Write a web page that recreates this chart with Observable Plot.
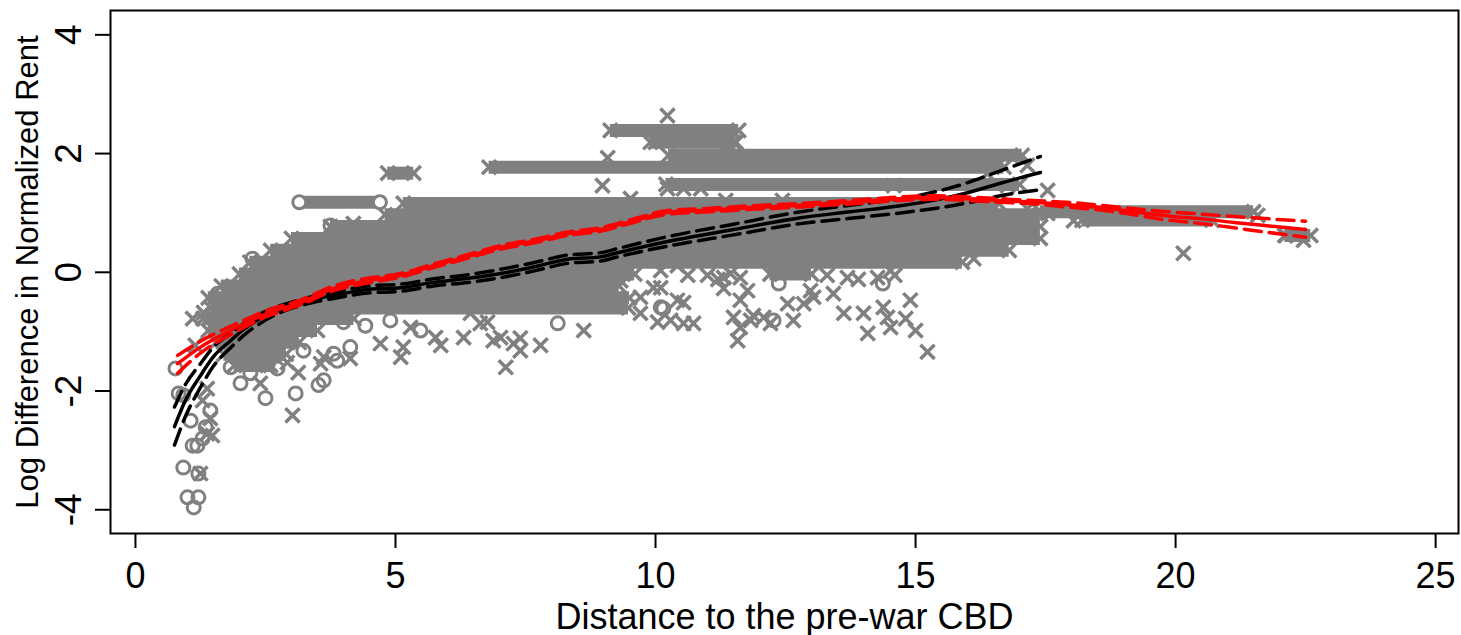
<!DOCTYPE html>
<html><head><meta charset="utf-8">
<script src="https://cdn.jsdelivr.net/npm/d3@7"></script>
<script src="https://cdn.jsdelivr.net/npm/@observablehq/plot@0.6"></script>
<style>body{margin:0;background:#fff;} svg{display:block}</style>
</head><body><div id="chart"></div>
<script>
// ---- ticks & labels ----
const xTicks = [0, 5, 10, 15, 20, 25];
const yTicks = [-4, -2, 0, 2, 4];
const xTitle = "Distance to the pre-war CBD";
const yTitle = "Log Difference in Normalized Rent";

// ---- dense horizontal rows of overlapping markers (y, x from, x to, marker) ----
const bandY  = [2.39, 2.19, 1.97, 1.77, 1.67, 1.48, 1.18, 1.16, 0.97, 0.77, 0.57, 0.37, 0.17, -0.03, -0.03, -0.23, -0.43, -0.60, -0.78, -0.98, -1.18, -1.38, -1.57, 1.02, 0.88, 0.62];
const bandX1 = [9.13, 9.90, 10.25, 6.80, 4.85, 10.2, 3.15, 5.15, 4.80, 3.75, 3.00, 2.60, 2.20, 2.00, 12.2, 1.65, 1.40, 1.45, 1.30, 1.40, 1.55, 1.70, 1.90, 17.4, 18.2, 22.1];
const bandX2 = [11.6, 11.55, 17.05, 16.7, 5.35, 17.0, 4.70, 16.6, 17.4, 17.4, 17.4, 16.8, 15.9, 9.60, 13.0, 9.30, 9.50, 9.48, 4.20, 3.50, 3.15, 2.90, 2.60, 21.5, 20.7, 22.6];
const bandM  = ["x","x","x","x","x","x","o","x","x","x","x","x","x","x","x","x","x","x","x","x","x","x","x","x","x","x"];

// ---- isolated markers ----
const crossX = [1.15,1.38,1.29,1.38,1.48,1.25,1.44,2.40,3.02,2.54,2.92,3.13,3.56,3.62,4.13,1.10,1.31,1.77,4.19,4.33,4.71,5.15,5.29,5.10,5.77,5.87,6.31,6.44,6.63,6.77,6.88,7.02,7.12,7.27,7.40,7.40,7.79,8.62,8.98,9.08,9.52,9.00,9.33,9.71,9.71,10.04,10.10,10.10,10.42,10.62,9.96,10.42,10.54,10.29,10.54,10.73,10.23,10.00,11.50,11.38,10.23,10.54,10.87,11.35,12.44,14.58,11.31,11.63,11.44,11.31,11.77,11.63,11.50,11.63,11.83,12.08,12.21,11.58,11.88,12.54,12.65,12.85,12.98,13.04,12.27,13.42,13.62,14.00,14.08,13.69,14.27,14.52,14.38,14.46,14.52,14.81,15.00,15.23,14.90,14.71,15.35,15.48,16.12,16.38,16.38,16.77,17.15,17.15,17.54,17.54,18.04,20.15,21.58,22.12,22.46,16.63,16.88,11.0,11.2,13.3,13.9,14.6];
const crossY = [-1.23,-1.96,-2.16,-2.72,-2.75,-3.39,-2.46,-1.87,-2.41,-1.57,-1.52,-1.69,-1.54,-1.43,-1.45,-0.78,-0.68,-0.93,0.82,0.59,-1.20,-1.26,-0.93,-1.43,-1.10,-1.23,-1.10,-0.69,-0.86,-0.84,-1.15,-1.10,-1.60,-1.20,-1.32,-1.11,-1.23,-0.98,1.46,1.93,1.24,-0.02,-0.14,-0.42,-0.69,-0.84,-0.26,0.03,0.11,-0.05,-0.26,-0.47,-0.51,-0.81,-0.86,-0.86,2.64,2.19,2.19,2.00,1.41,1.41,1.41,1.21,1.21,1.46,-0.09,-0.09,-0.02,-0.27,-0.31,-0.47,-0.76,-0.93,-0.81,-0.76,-0.86,-1.15,-0.73,-0.53,-0.81,-0.53,-0.31,-0.42,0.11,-0.36,-0.69,-0.69,-1.03,-0.09,-0.09,0.03,-0.59,-0.76,-0.93,-0.78,-0.98,-1.34,-0.47,0.50,0.37,0.37,0.23,1.04,1.66,1.46,1.80,1.07,1.38,0.99,0.87,0.32,0.96,0.62,0.54,0.62,0.62,-0.05,-0.12,-0.05,-0.12,-0.05];
const circleX = [0.77,0.83,0.92,0.92,1.21,1.00,1.21,1.12,1.10,1.19,1.29,1.35,1.06,1.44,2.50,3.08,3.52,3.62,3.88,3.23,2.73,2.02,1.83,2.21,2.56,2.25,3.75,3.94,1.58,4.00,3.81,4.13,8.12,10.15,12.37,14.37,12.27,10.10,4.42,4.90,5.48];
const circleY = [-1.62,-2.04,-2.07,-3.29,-3.39,-3.79,-3.79,-3.96,-2.92,-2.92,-2.80,-2.61,-2.50,-2.33,-2.12,-2.04,-1.90,-1.82,-1.49,-1.32,-1.62,-1.87,-1.60,-1.70,-1.51,0.23,0.79,0.59,-0.36,-0.84,-1.37,-1.26,-0.86,-0.61,-0.19,-0.19,-0.81,-0.59,-0.90,-0.81,-0.98];

// ---- fitted curves with confidence bands ----
const blackX   = [0.75,0.96,1.25,1.5,1.83,2.1,2.4,2.75,3.1,3.45,3.81,4.46,5.1,5.73,6.4,7.02,7.65,8.31,8.94,9.27,10.23,11.5,12.79,13.75,14.71,15.4,16.0,16.63,17.4];
const blackFit = [-2.6,-2.16,-1.74,-1.42,-1.15,-0.95,-0.78,-0.63,-0.53,-0.45,-0.39,-0.29,-0.26,-0.17,-0.1,-0.02,0.09,0.22,0.26,0.33,0.52,0.72,0.92,1.02,1.12,1.22,1.34,1.5,1.68];
const blackHi  = [-2.27,-1.89,-1.54,-1.26,-1.03,-0.85,-0.70,-0.57,-0.48,-0.40,-0.34,-0.23,-0.20,-0.11,-0.04,0.05,0.16,0.29,0.33,0.40,0.60,0.81,1.02,1.13,1.24,1.36,1.51,1.71,1.95];
const blackLo  = [-2.91,-2.43,-1.94,-1.58,-1.27,-1.05,-0.86,-0.69,-0.58,-0.50,-0.44,-0.35,-0.32,-0.23,-0.17,-0.09,0.02,0.15,0.19,0.26,0.44,0.63,0.82,0.91,1.00,1.08,1.17,1.29,1.39];

const redX   = [0.81,1.25,1.83,2.54,3.17,3.81,4.46,5.1,5.73,6.4,7.02,7.7,8.31,8.94,9.58,10.23,10.87,11.83,12.79,13.75,14.71,15.38,16.0,16.6,17.27,17.9,18.56,19.2,19.85,20.5,21.12,21.8,22.5];
const redFit = [-1.54,-1.26,-0.98,-0.69,-0.51,-0.27,-0.14,-0.05,0.11,0.27,0.42,0.53,0.65,0.72,0.87,1.01,1.04,1.09,1.13,1.18,1.24,1.26,1.24,1.21,1.18,1.14,1.09,1.02,0.95,0.90,0.84,0.78,0.72];
const redHi  = [-1.40,-1.16,-0.91,-0.64,-0.47,-0.23,-0.10,-0.02,0.14,0.30,0.45,0.56,0.68,0.75,0.90,1.04,1.07,1.12,1.16,1.21,1.27,1.29,1.27,1.24,1.21,1.18,1.13,1.07,1.02,0.98,0.94,0.90,0.86];
const redLo  = [-1.70,-1.36,-1.05,-0.74,-0.55,-0.31,-0.18,-0.08,0.08,0.24,0.39,0.50,0.62,0.69,0.84,0.98,1.01,1.06,1.10,1.15,1.21,1.23,1.21,1.18,1.15,1.10,1.05,0.97,0.88,0.82,0.75,0.67,0.59];

// ---- build tables ----
const bands = bandY.map((y, i) => ({y, x1: bandX1[i], x2: bandX2[i], m: bandM[i]}));
const bandEnds = bands.flatMap(b => [{x: b.x1, y: b.y, m: b.m}, {x: b.x2, y: b.y, m: b.m}]);
const grey = "#808080";
const font = "'Liberation Sans', Arial, Helvetica, sans-serif";

const lineSpec = (xs, ys, color, dashed) => Plot.line(xs.map((x, i) => ({x, y: ys[i]})), {
  x: "x", y: "y", stroke: color, strokeWidth: 3.5, curve: "monotone-x",
  strokeDasharray: dashed ? "17,8" : null
});

const chart = Plot.plot({
  width: 1461, height: 635,
  marginLeft: 110, marginRight: 3, marginTop: 10, marginBottom: 102,
  x: {domain: [-0.48, 25.44]},
  y: {domain: [-4.40, 4.41]},
  style: {fontFamily: font, background: "#fff", color: "#000"},
  marks: [
    Plot.ruleY(bands, {y: "y", x1: "x1", x2: "x2", stroke: grey, strokeWidth: 13}),
    Plot.dot(bandEnds.filter(d => d.m === "x"), {x: "x", y: "y", symbol: "times", r: 6.5, stroke: grey, strokeWidth: 3.5}),
    Plot.dot(bandEnds.filter(d => d.m === "o"), {x: "x", y: "y", r: 6.5, stroke: grey, strokeWidth: 3, fill: "white"}),
    Plot.dot(crossX, {x: crossX, y: crossY, symbol: "times", r: 6.5, stroke: grey, strokeWidth: 3.5}),
    Plot.dot(circleX, {x: circleX, y: circleY, r: 6.5, stroke: grey, strokeWidth: 3}),
    lineSpec(blackX, blackHi, "black", true),
    lineSpec(blackX, blackLo, "black", true),
    lineSpec(blackX, blackFit, "black", false),
    lineSpec(redX, redHi, "red", true),
    lineSpec(redX, redLo, "red", true),
    lineSpec(redX, redFit, "red", false),
    Plot.frame({stroke: "black", strokeWidth: 2}),
    Plot.axisX({ticks: xTicks, tickSize: 15, tickPadding: 14, fontSize: 36, label: null, strokeWidth: 2}),
    Plot.axisY({ticks: yTicks, tickSize: 15, tickFormat: () => "", label: null, strokeWidth: 2}),
    Plot.text(yTicks, {y: d => d, text: d => String(d), frameAnchor: "left", dx: -30, rotate: -90, textAnchor: "middle", lineAnchor: "bottom", fontSize: 37}),
    Plot.text([xTitle], {text: d => d, frameAnchor: "bottom", dy: 95, textAnchor: "middle", lineAnchor: "bottom", fontSize: 36}),
    Plot.text([yTitle], {text: d => d, frameAnchor: "left", dx: -73, rotate: -90, textAnchor: "middle", lineAnchor: "bottom", fontSize: 31})
  ]
});
document.getElementById("chart").appendChild(chart);
</script>
</body></html>
